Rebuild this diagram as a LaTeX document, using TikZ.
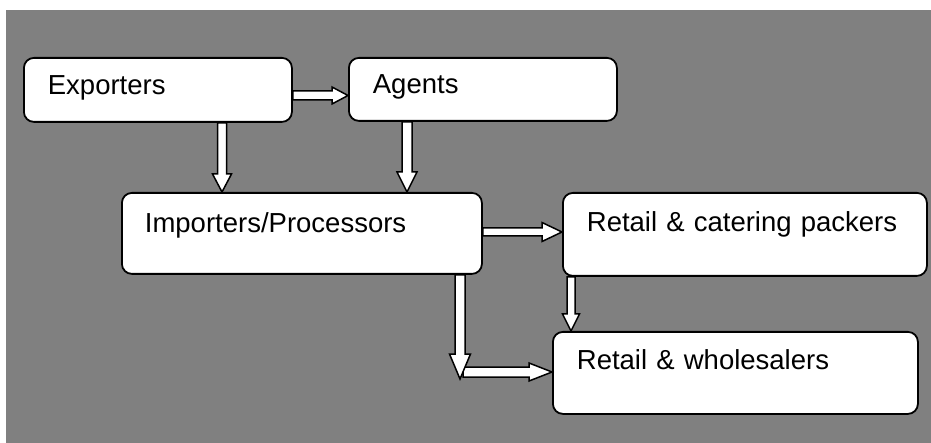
\documentclass[tikz,border=0pt]{standalone}
\usepackage{fontspec}
\setmainfont{Liberation Sans}
\usetikzlibrary{calc}
\definecolor{bggray}{RGB}{128,128,128}
\tikzset{
  stage/.style={draw=black, fill=white, rounded corners=10pt, line width=1.8pt,
    anchor=north west, inner xsep=24pt, inner ysep=0pt, align=left,
    font=\fontsize{27.5}{33}\selectfont},
  blockarrow/.style={draw=black, fill=white, line width=1.5pt, line join=miter}
}
\newcommand{\blockright}[5]{%
  \draw[blockarrow] ($(#1)+(0,#3)$) -- ($(#2)+(-#5,#3)$) -- ($(#2)+(-#5,#4)$) -- (#2)
    -- ($(#2)+(-#5,-#4)$) -- ($(#2)+(-#5,-#3)$) -- ($(#1)+(0,-#3)$) -- cycle;}
\newcommand{\blockdown}[5]{%
  \draw[blockarrow] ($(#1)+(-#3,0)$) -- ($(#2)+(-#3,-#5)$) -- ($(#2)+(-#4,-#5)$) -- (#2)
    -- ($(#2)+(#4,-#5)$) -- ($(#2)+(#3,-#5)$) -- ($(#1)+(#3,0)$) -- cycle;}
\begin{document}
\begin{tikzpicture}[x=1pt,y=-1pt]
\useasboundingbox (0,0) rectangle (931,443);
\fill[bggray] (6,10) rectangle (931,443);

\node[stage, text width=220pt, text height=37pt, text depth=27pt] (exp) at (23,57) {Exporters};
\node[stage, text width=220pt, text height=36pt, text depth=27pt] (agt) at (348,57) {Agents};
\node[stage, text width=314pt, text height=40pt, text depth=41pt, inner xsep=23pt] (imp) at (121,192) {Importers/Processors};
\node[stage, text width=316pt, text height=39pt, text depth=44pt, inner xsep=24pt] (rcp) at (562,192) {Retail \& catering packers};
\node[stage, text width=317pt, text height=38pt, text depth=44pt] (rws) at (552,331) {Retail \& wholesalers};

% connector end points
\coordinate (ea1) at (exp.east |- 0,95.5);
\coordinate (ea2) at (agt.west |- 0,95.5);
\coordinate (ei1) at (222,0 |- exp.south);
\coordinate (ei2) at (222,0 |- imp.north);
\coordinate (ai1) at (407,0 |- agt.south);
\coordinate (ai2) at (407,0 |- imp.north);
\coordinate (ir1) at (imp.east |- 0,232);
\coordinate (ir2) at (rcp.west |- 0,232);
\coordinate (id1) at (460,0 |- imp.south);
\coordinate (bend) at (460,379);
\coordinate (bw1) at (463,372);
\coordinate (bw2) at (rws.west |- 0,372);
\coordinate (rw1) at (571,0 |- rcp.south);
\coordinate (rw2) at (571,0 |- rws.north);

\blockright{ea1}{ea2}{4.5}{8.5}{16}
\blockdown{ei1}{ei2}{4.5}{9.5}{18}
\blockdown{ai1}{ai2}{5}{10}{20}
\blockright{ir1}{ir2}{4}{9.5}{20}
\blockright{bw1}{bw2}{5}{9}{23}
\blockdown{id1}{bend}{5}{10.5}{25}
\blockdown{rw1}{rw2}{4}{8.5}{17}
\end{tikzpicture}
\end{document}
